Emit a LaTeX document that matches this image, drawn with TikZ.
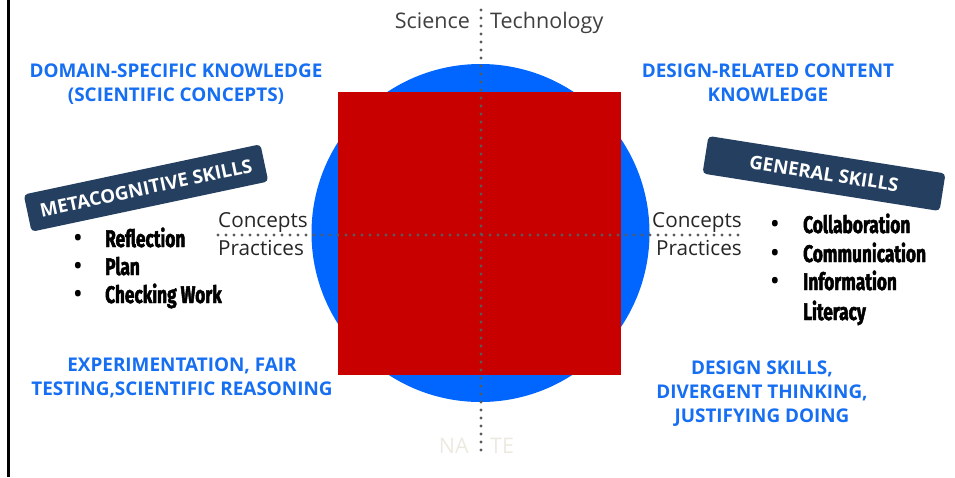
\documentclass[tikz,border=0pt]{standalone}
\usepackage{fontspec}
\setmainfont{Open Sans}
\newfontfamily\condfont[FakeStretch=0.72,FakeBold=2]{Fira Sans}
\definecolor{discblue}{RGB}{0,102,255}
\definecolor{headblue}{RGB}{22,110,242}
\definecolor{boxred}{RGB}{200,0,0}
\definecolor{bannernavy}{RGB}{36,63,96}
\definecolor{dotgray}{RGB}{90,90,90}
\definecolor{axisgray}{RGB}{64,64,64}
\definecolor{fadedtext}{RGB}{236,234,224}
\begin{document}
\begin{tikzpicture}[x=1pt,y=-1pt,
  dotline/.style={dotgray, line width=3.2pt, line cap=round, dash pattern=on 0pt off 8pt},
  heading/.style={headblue, font=\fontsize{18.9}{24}\selectfont\bfseries, align=center, inner sep=0pt, anchor=base},
  banner/.style={fill=bannernavy, rounded corners=4pt, text=white, font=\fontsize{18.7}{20}\selectfont\bfseries, inner sep=0pt},
  axislabel/.style={axisgray, font=\fontsize{21.5}{24}\selectfont, inner sep=0pt},
  sidelabel/.style={black!85, font=\fontsize{20.7}{24}\selectfont, inner sep=0pt},
  item/.style={black, font=\condfont\fontsize{24}{28}\selectfont\bfseries, inner sep=0pt, anchor=base west},
  bullet/.style={black, font=\fontsize{27}{28}\selectfont, inner sep=0pt, anchor=base}
]
\useasboundingbox (0,0) rectangle (955,477);

% left frame rule
\draw[black, line width=2.6pt] (8.5,0) -- (8.5,477);

% central disc and square
\fill[discblue] (480.5,233) circle (169);
\node[fill=boxred, minimum width=283, minimum height=283, inner sep=0pt] (core) at (479.7,233.3) {};

% dotted axes
\coordinate (vtop) at (481,10);
\coordinate (vbot) at (481,452);
\coordinate (hleft) at (218,235);
\coordinate (hright) at (745,235);
\draw[dotline] (vtop) -- (vbot);
\draw[dotline] (hleft) -- (hright);

% axis labels
\node[axislabel, anchor=base east] (sci) at (470,28) {Science};
\node[axislabel, anchor=base west] (tech) at (490,28) {Technology};
\node[axislabel, fadedtext, anchor=base east] (na) at (469,453) {NA};
\node[axislabel, fadedtext, anchor=base west] (te) at (490,453) {TE};

\node[sidelabel, anchor=base west] (lconc) at (218,227) {Concepts};
\node[sidelabel, anchor=base west] (lprac) at (218,255) {Practices};
\node[sidelabel, anchor=base east] (rconc) at (742,227) {Concepts};
\node[sidelabel, anchor=base east] (rprac) at (742,255) {Practices};

% quadrant headings (anchored at the baseline of their last line)
\node[heading] (dsk) at (176,101) {DOMAIN-SPECIFIC KNOWLEDGE\\(SCIENTIFIC CONCEPTS)};
\node[heading] (drk) at (768,101) {DESIGN-RELATED CONTENT\\KNOWLEDGE};
\node[heading] (exp) at (182,395) {EXPERIMENTATION, FAIR\\TESTING,SCIENTIFIC REASONING};
\node[heading] (dsg) at (762,422) {DESIGN SKILLS,\\DIVERGENT THINKING,\\JUSTIFYING DOING};

% banners
\node[banner, rotate=12, minimum width=242, minimum height=38] (meta) at (146,188) {METACOGNITIVE SKILLS};
\node[banner, rotate=-9, minimum width=240, minimum height=38] (gen) at (824,173.5) {GENERAL SKILLS};

% metacognitive skill list
\node[bullet] (lb1) at (78,247) {•};
\node[bullet] (lb2) at (78,275) {•};
\node[bullet] (lb3) at (78,303) {•};
\node[item] (refl) at (105,247) {Reflection};
\node[item] (plan) at (105,275) {Plan};
\node[item] (chk) at (105,303) {Checking Work};

% general skill list
\node[bullet] (rb1) at (775,233) {•};
\node[bullet] (rb2) at (775,262) {•};
\node[bullet] (rb3) at (775,290) {•};
\node[item] (coll) at (803,233) {Collaboration};
\node[item] (comm) at (803,262) {Communication};
\node[item] (info) at (803,290) {Information};
\node[item] (lit) at (803,320) {Literacy};
\end{tikzpicture}
\end{document}
